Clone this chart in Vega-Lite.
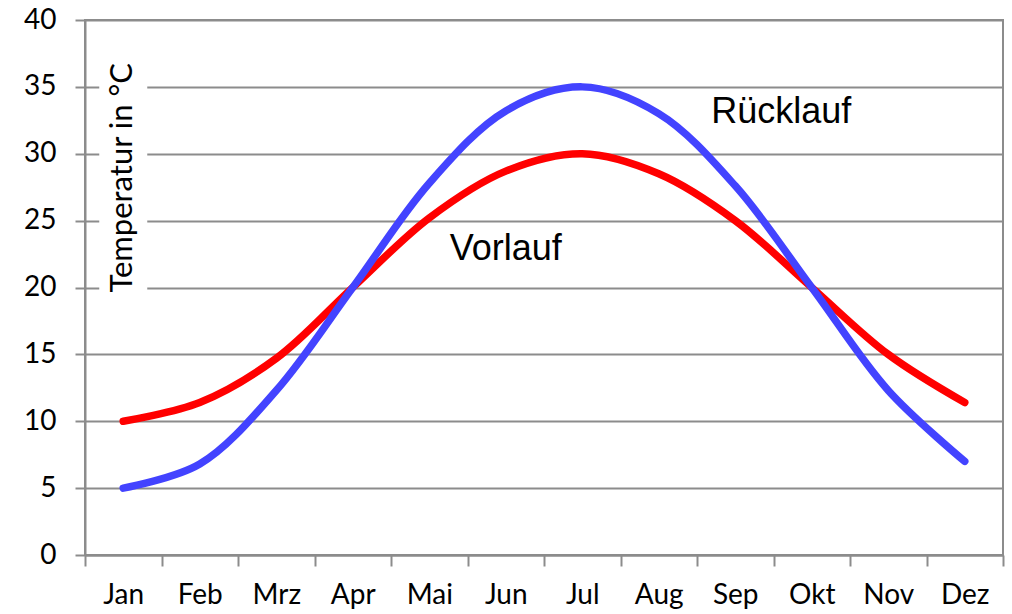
{
  "$schema": "https://vega.github.io/schema/vega-lite/v6.json",
  "width": 918,
  "height": 535,
  "autosize": "none",
  "padding": {"left": 85, "top": 20, "right": 9, "bottom": 59},
  "background": "white",
  "config": {
    "view": {"stroke": "#8c8c8c", "strokeWidth": 2},
    "font": "Lato"
  },
  "data": {
    "values": [
      {"Monat": "Jan", "Reihe": "Vorlauf", "Temperatur": 10},
      {"Monat": "Feb", "Reihe": "Vorlauf", "Temperatur": 11.4},
      {"Monat": "Mrz", "Reihe": "Vorlauf", "Temperatur": 14.7},
      {"Monat": "Apr", "Reihe": "Vorlauf", "Temperatur": 20},
      {"Monat": "Mai", "Reihe": "Vorlauf", "Temperatur": 25.2},
      {"Monat": "Jun", "Reihe": "Vorlauf", "Temperatur": 28.7},
      {"Monat": "Jul", "Reihe": "Vorlauf", "Temperatur": 30},
      {"Monat": "Aug", "Reihe": "Vorlauf", "Temperatur": 28.5},
      {"Monat": "Sep", "Reihe": "Vorlauf", "Temperatur": 25},
      {"Monat": "Okt", "Reihe": "Vorlauf", "Temperatur": 20},
      {"Monat": "Nov", "Reihe": "Vorlauf", "Temperatur": 15},
      {"Monat": "Dez", "Reihe": "Vorlauf", "Temperatur": 11.4},
      {"Monat": "Jan", "Reihe": "Rücklauf", "Temperatur": 5},
      {"Monat": "Feb", "Reihe": "Rücklauf", "Temperatur": 6.8},
      {"Monat": "Mrz", "Reihe": "Rücklauf", "Temperatur": 12.3},
      {"Monat": "Apr", "Reihe": "Rücklauf", "Temperatur": 20},
      {"Monat": "Mai", "Reihe": "Rücklauf", "Temperatur": 27.8},
      {"Monat": "Jun", "Reihe": "Rücklauf", "Temperatur": 33.2},
      {"Monat": "Jul", "Reihe": "Rücklauf", "Temperatur": 35},
      {"Monat": "Aug", "Reihe": "Rücklauf", "Temperatur": 33},
      {"Monat": "Sep", "Reihe": "Rücklauf", "Temperatur": 27.6},
      {"Monat": "Okt", "Reihe": "Rücklauf", "Temperatur": 20},
      {"Monat": "Nov", "Reihe": "Rücklauf", "Temperatur": 12.3},
      {"Monat": "Dez", "Reihe": "Rücklauf", "Temperatur": 7}
    ]
  },
  "encoding": {
    "x": {
      "field": "Monat",
      "type": "nominal",
      "sort": ["Jan","Feb","Mrz","Apr","Mai","Jun","Jul","Aug","Sep","Okt","Nov","Dez"],
      "scale": {"type": "band", "paddingInner": 0, "paddingOuter": 0},
      "axis": {
        "title": null,
        "labelAngle": 0,
        "labelFont": "Lato",
        "labelFontSize": 28,
        "labelColor": "black",
        "labelPadding": 15,
        "tickBand": "extent",
        "tickSize": 11,
        "tickWidth": 2,
        "tickColor": "#8c8c8c",
        "domainColor": "#8c8c8c",
        "domainWidth": 2,
        "grid": false
      }
    },
    "y": {
      "field": "Temperatur",
      "type": "quantitative",
      "scale": {"domain": [0, 40], "nice": false, "zero": true},
      "axis": {
        "title": null,
        "values": [0, 5, 10, 15, 20, 25, 30, 35, 40],
        "labelFont": "Lato",
        "labelFontSize": 28,
        "labelColor": "black",
        "labelPadding": 19,
        "tickSize": 10,
        "tickWidth": 2,
        "tickColor": "#8c8c8c",
        "domainColor": "#8c8c8c",
        "domainWidth": 2,
        "grid": true,
        "gridColor": "#8c8c8c",
        "gridWidth": 2,
        "gridOpacity": 1
      }
    }
  },
  "layer": [
    {
      "transform": [{"filter": "datum.Monat === 'Jan' && datum.Reihe === 'Vorlauf'"}],
      "mark": {"type": "bar", "fill": "white", "stroke": null, "width": 48},
      "encoding": {
        "x": {"datum": "Jan"},
        "y": {"datum": 19.3},
        "y2": {"datum": 37.3}
      }
    },
    {
      "transform": [{"filter": "datum.Reihe === 'Vorlauf'"}],
      "mark": {"type": "line", "interpolate": "catmull-rom", "strokeWidth": 7.5, "strokeCap": "round", "strokeJoin": "round"},
      "encoding": {
        "color": {"field": "Reihe", "type": "nominal", "scale": {"domain": ["Vorlauf", "Rücklauf"], "range": ["#ff0000", "#4343ff"]}, "legend": null}
      }
    },
    {
      "transform": [{"filter": "datum.Reihe === 'Rücklauf'"}],
      "mark": {"type": "line", "interpolate": "catmull-rom", "strokeWidth": 7.5, "strokeCap": "round", "strokeJoin": "round"},
      "encoding": {
        "color": {"field": "Reihe", "type": "nominal", "legend": null}
      }
    },
    {
      "transform": [{"filter": "datum.Monat === 'Jan' && datum.Reihe === 'Vorlauf'"}],
      "mark": {"type": "text", "text": "Temperatur  in °C", "angle": 270, "font": "Lato", "fontSize": 31, "align": "center", "baseline": "middle", "fill": "black"},
      "encoding": {
        "x": {"datum": "Jan"},
        "y": {"datum": 28.2}
      }
    },
    {
      "transform": [{"filter": "datum.Monat === 'Jun' && datum.Reihe === 'Vorlauf'"}],
      "mark": {"type": "text", "text": "Vorlauf", "font": "Liberation Sans", "fontSize": 36, "align": "center", "baseline": "middle", "fill": "black"},
      "encoding": {
        "x": {"datum": "Jun"},
        "y": {"datum": 22.85}
      }
    },
    {
      "transform": [{"filter": "datum.Monat === 'Sep' && datum.Reihe === 'Rücklauf'"}],
      "mark": {"type": "text", "text": "Rücklauf", "font": "Liberation Sans", "fontSize": 36, "align": "left", "baseline": "middle", "dx": -24, "fill": "black"},
      "encoding": {
        "x": {"datum": "Sep"},
        "y": {"datum": 33.1}
      }
    }
  ]
}
